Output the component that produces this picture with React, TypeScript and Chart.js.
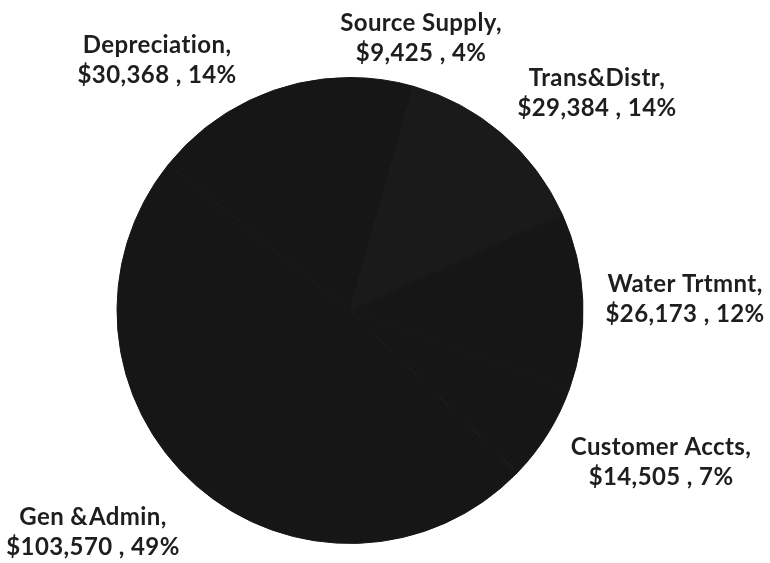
import React, { useEffect, useRef } from "react";
import { Chart, registerables } from "chart.js";

Chart.register(...registerables);

// Data (clockwise from 12 o'clock)
const categories = ["Source Supply", "Trans&Distr", "Water Trtmnt", "Customer Accts", "Gen &Admin", "Depreciation"];
const costs = [9425, 29384, 26173, 14505, 103570, 30368];
const percentLabels = ["4%", "14%", "12%", "7%", "49%", "14%"];
const nameLabels = ["Source Supply,", "Trans&Distr,", "Water Trtmnt,", "Customer Accts,", "Gen &Admin,", "Depreciation,"];

// Label placement, relative to pie centre in units of radius
const labelOffsets: [number, number][] = [
  [0.305, -1.17],
  [1.06, -0.933],
  [1.438, -0.049],
  [1.335, 0.652],
  [-1.103, 0.953],
  [-0.828, -1.075],
];

const sliceColors = ["#161616", "#1a1a1a", "#161616", "#161616", "#161616", "#161616"];

const fmt = (v: number) => "$" + v.toLocaleString("en-US");

const labelPlugin = {
  id: "outsideLabels",
  afterDatasetsDraw(chart: any) {
    const meta = chart.getDatasetMeta(0);
    const ctx = chart.ctx;
    ctx.save();
    ctx.fillStyle = "#1e1e1e";
    ctx.textAlign = "center";
    ctx.textBaseline = "middle";
    ctx.font = "bold 24px Lato";
    try { (ctx as any).letterSpacing = "0.4px"; } catch (e) {}
    meta.data.forEach((arc: any, i: number) => {
      const { x, y, outerRadius } = arc.getProps(["x", "y", "outerRadius"], true);
      const [ox, oy] = labelOffsets[i];
      const cx = x + ox * outerRadius;
      const cy = y + oy * outerRadius;
      ctx.fillText(nameLabels[i], cx, cy - 15);
      ctx.fillText(fmt(costs[i]) + " , " + percentLabels[i], cx, cy + 15);
    });
    ctx.restore();
  },
};

export default function App() {
  const ref = useRef<HTMLCanvasElement | null>(null);
  useEffect(() => {
    document.body.style.margin = "0";
    const chart = new Chart(ref.current as HTMLCanvasElement, {
      type: "pie",
      data: {
        labels: categories,
        datasets: [
          {
            data: costs,
            backgroundColor: sliceColors,
            borderColor: sliceColors,
            borderWidth: 1,
            hoverOffset: 0,
          },
        ],
      },
      options: {
        animation: false,
        responsive: false,
        devicePixelRatio: 1,
        layout: { padding: { left: 116.5, right: 186.5, top: 77, bottom: 19 } },
        plugins: {
          legend: { display: false },
          tooltip: { enabled: false },
        },
      },
      plugins: [labelPlugin],
    });
    return () => chart.destroy();
  }, []);
  return (
    <div style={{ width: 770, height: 563, background: "#ffffff" }}>
      <canvas ref={ref} width={770} height={563} />
    </div>
  );
}
